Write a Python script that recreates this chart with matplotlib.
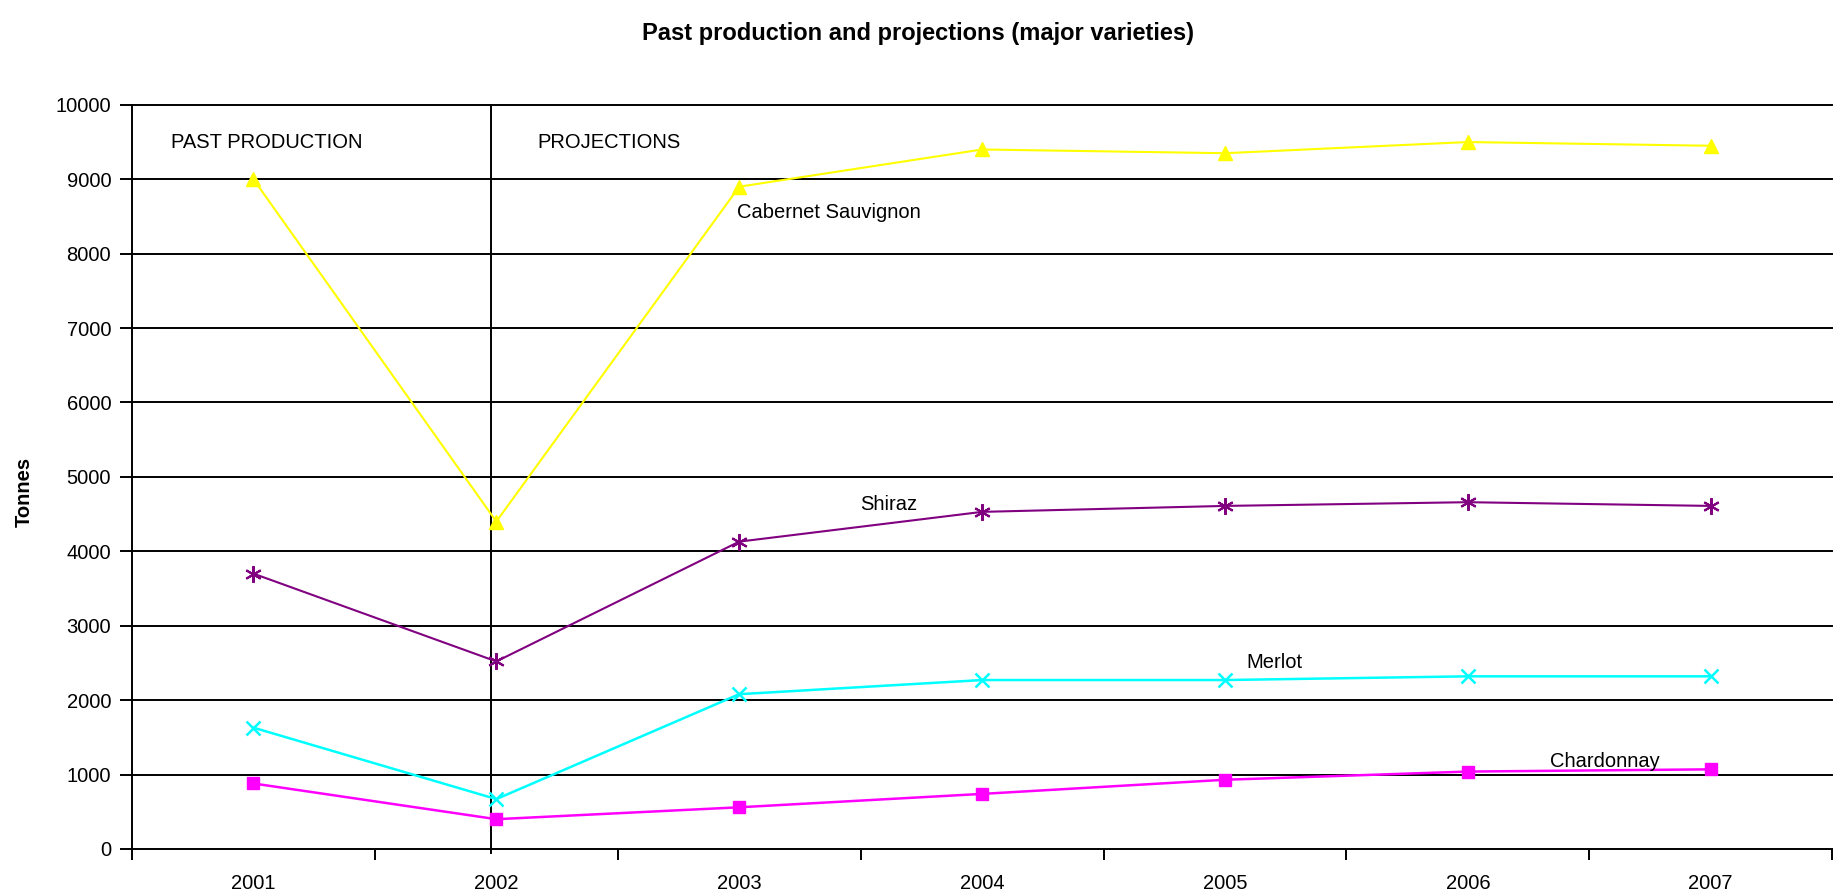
import matplotlib
matplotlib.use("Agg")
import matplotlib.pyplot as plt
import numpy as np

plt.rcParams['font.family'] = ['Liberation Sans', 'DejaVu Sans']

years = ['2001', '2002', '2003', '2004', '2005', '2006', '2007']
cabernet = [9000, 4400, 8900, 9400, 9350, 9500, 9450]
shiraz = [3700, 2520, 4130, 4530, 4610, 4660, 4610]
merlot = [1630, 670, 2080, 2270, 2270, 2320, 2320]
chardonnay = [880, 400, 560, 740, 930, 1040, 1070]

x = np.arange(len(years))

fig = plt.figure(figsize=(18.36, 8.96), dpi=100)
ax = fig.add_axes([0.0719, 0.0525, 0.926, 0.8305])

ax.set_ylim(0, 10000)
ax.set_xlim(-0.5, len(years) - 0.5)
ax.set_yticks(np.arange(0, 10001, 1000))
for yv in np.arange(1000, 10001, 1000):
    ax.axhline(yv, color='black', lw=1.4, zorder=1, clip_on=False)

ax.plot(x, cabernet, color='#FFFF00', lw=1.5, marker='^', ms=10, zorder=3)
ax.plot(x, shiraz, color='#800080', lw=1.5, marker=(6, 2, 0), ms=12, mew=1.5, zorder=3)
ax.plot(x, merlot, color='#00FFFF', lw=1.8, marker='x', ms=10, mew=1.8, zorder=3)
ax.plot(x, chardonnay, color='#FF00FF', lw=1.8, marker='s', ms=8, zorder=3)

# divider between past and projections
ax.plot([0.98, 0.98], [-60, 10000], color='black', lw=1.4, zorder=2, clip_on=False)

fs = 14.5
ax.text(-0.34, 9500, 'PAST PRODUCTION', fontsize=fs, va='center', ha='left')
ax.text(1.17, 9500, 'PROJECTIONS', fontsize=fs, va='center', ha='left')
ax.text(1.99, 8550, 'Cabernet Sauvignon', fontsize=fs, va='center', ha='left')
ax.text(2.5, 4630, 'Shiraz', fontsize=fs, va='center', ha='left')
ax.text(4.09, 2500, 'Merlot', fontsize=fs, va='center', ha='left')
ax.text(5.34, 1170, 'Chardonnay', fontsize=fs, va='center', ha='left')

ax.set_xticks(x)
ax.set_xticklabels(years, fontsize=fs)
ax.set_xticks(np.arange(-0.5, len(years) + 0.5, 1), minor=True)
ax.tick_params(axis='x', which='major', length=0, pad=18)
ax.tick_params(axis='x', which='minor', length=8, width=1.4, direction='out')
ax.tick_params(axis='y', labelsize=fs, length=9, width=1.4, direction='out', pad=6)

for s in ['top', 'right']:
    ax.spines[s].set_visible(False)
ax.spines['left'].set_linewidth(1.4)
ax.spines['bottom'].set_linewidth(1.4)

ax.set_ylabel('Tonnes', fontsize=fs, fontweight='bold')
ax.yaxis.set_label_coords(-0.058, 0.48)
fig.suptitle('Past production and projections (major varieties)', fontsize=17,
             fontweight='bold', y=0.975)

fig.savefig('out.png', dpi=100)
